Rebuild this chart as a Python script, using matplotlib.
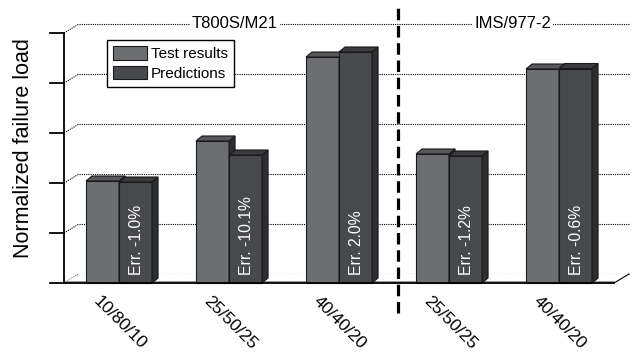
import numpy as np
import matplotlib
matplotlib.use("Agg")
import matplotlib.pyplot as plt
from matplotlib.patches import Patch

plt.rcParams['font.family'] = ['Liberation Sans', 'DejaVu Sans']

# data (normalized failure load, 1 unit per gridline)
layups = ["10/80/10", "25/50/25", "40/40/20", "25/50/25", "40/40/20"]
test_results = [2.04, 2.84, 4.52, 2.58, 4.28]
predictions = [2.02, 2.56, 4.62, 2.54, 4.29]
errors = ["Err. -1.0%", "Err. -10.1%", "Err. 2.0%", "Err. -1.2%", "Err. -0.6%"]
materials = ["T800S/M21", "IMS/977-2"]
material_centers = [1.055, 3.58]
split_x = 2.536

c_test = "#6d6e71"
c_pred = "#48494c"
c_side = "#2e2e30"
c_top_test = "#57585b"
c_top_pred = "#3b3b3d"

bar_w = 0.3
bdx, bdy = 0.055, 0.10     # bar depth offset
fdx, fdy = 0.136, 0.18     # floor / wall depth offset
x_lo, x_hi = -0.5, 4.5
y_top = 5

fig = plt.figure(figsize=(6.38, 3.56), dpi=100)
ax = fig.add_axes([64 / 638, 73 / 356, 550 / 638, 250 / 356])
ax.set_xlim(x_lo, x_hi)
ax.set_ylim(0, y_top)
ax.axis("off")


def box(x0, h, front, top):
    x1 = x0 + bar_w
    ax.fill([x0, x1, x1, x0], [0, 0, h, h], fc=front, ec="#1a1a1a", lw=0.8,
            zorder=5, clip_on=False)
    ax.fill([x1, x1 + bdx, x1 + bdx, x1], [0, bdy, h + bdy, h], fc=c_side,
            ec="#1a1a1a", lw=0.8, zorder=5, clip_on=False)
    ax.fill([x0, x0 + bdx, x1 + bdx, x1], [h, h + bdy, h + bdy, h], fc=top,
            ec="#1a1a1a", lw=0.8, zorder=5, clip_on=False)


# back gridlines and side diagonals
for g in range(0, y_top + 1):
    ax.plot([x_lo + fdx, x_hi + fdx], [g + fdy, g + fdy], ls=(0, (1, 1)),
            color="black", lw=0.8, zorder=1, clip_on=False)
    ax.plot([x_lo, x_lo + fdx], [g, g + fdy], ls=(0, (1, 1)),
            color="black", lw=0.8, zorder=1, clip_on=False)

# floor
ax.fill([x_lo, x_hi, x_hi + fdx, x_lo + fdx], [0, 0, fdy, fdy], fc="white",
        ec="none", zorder=2, clip_on=False)
ax.fill([x_lo, x_hi, x_hi + 0.01, x_lo + 0.01], [0, 0, 0.04, 0.04], fc="#9a9a9a",
        ec="none", zorder=2, clip_on=False)
ax.plot([x_hi, x_hi + fdx], [0, fdy], color="black", lw=0.8, zorder=2, clip_on=False)
ax.plot([x_lo - 0.127, x_hi], [0, 0], color="black", lw=1.3, zorder=6, clip_on=False)

# y axis with outward ticks
ax.plot([x_lo, x_lo], [0, y_top], color="black", lw=1.3, zorder=6, clip_on=False)
for g in range(1, y_top + 1):
    ax.plot([x_lo - 0.127, x_lo], [g, g], color="black", lw=1.3, zorder=6,
            clip_on=False)

# bars
for i in range(len(layups)):
    box(i - bar_w, test_results[i], c_test, c_top_test)
    box(i, predictions[i], c_pred, c_top_pred)
    ax.text(i + bar_w / 2 + 0.005, 0.16, errors[i], rotation=90, ha="center",
            va="bottom", color="white", fontsize=11.3, zorder=7)
    ax.text(i + 0.01, -0.8, layups[i], rotation=-45, ha="center", va="center",
            fontsize=12.5, rotation_mode="anchor", clip_on=False)

# material labels on top gridline
for name, xc in zip(materials, material_centers):
    ax.text(xc, y_top + fdy, name, ha="center", va="center", fontsize=12,
            zorder=3, bbox=dict(fc="white", ec="none", pad=1.5))

# separator between materials
ax.plot([split_x, split_x], [-0.6, 5.58], color="black", lw=2.3,
        ls=(0, (3.6, 1.8)), zorder=8, clip_on=False)

fig.text(24 / 638, 1 - 148 / 356, "Normalized failure load", rotation=90,
         ha="center", va="center", fontsize=15.5)

handles = [Patch(fc=c_test, ec="#1a1a1a", lw=0.8, label="Test results"),
           Patch(fc=c_pred, ec="#1a1a1a", lw=0.8, label="Predictions")]
leg = ax.legend(handles=handles, loc="upper left",
                bbox_to_anchor=(107 / 638, 1 - 40 / 356),
                bbox_transform=fig.transFigure, fontsize=11,
                frameon=True, fancybox=False, framealpha=1, edgecolor="black",
                handlelength=2.2, handleheight=0.98, handletextpad=0.25,
                labelspacing=0.3, borderpad=0.4, borderaxespad=0)
leg.get_frame().set_linewidth(1.0)
leg.set_zorder(10)

fig.savefig("out.png", dpi=100)
